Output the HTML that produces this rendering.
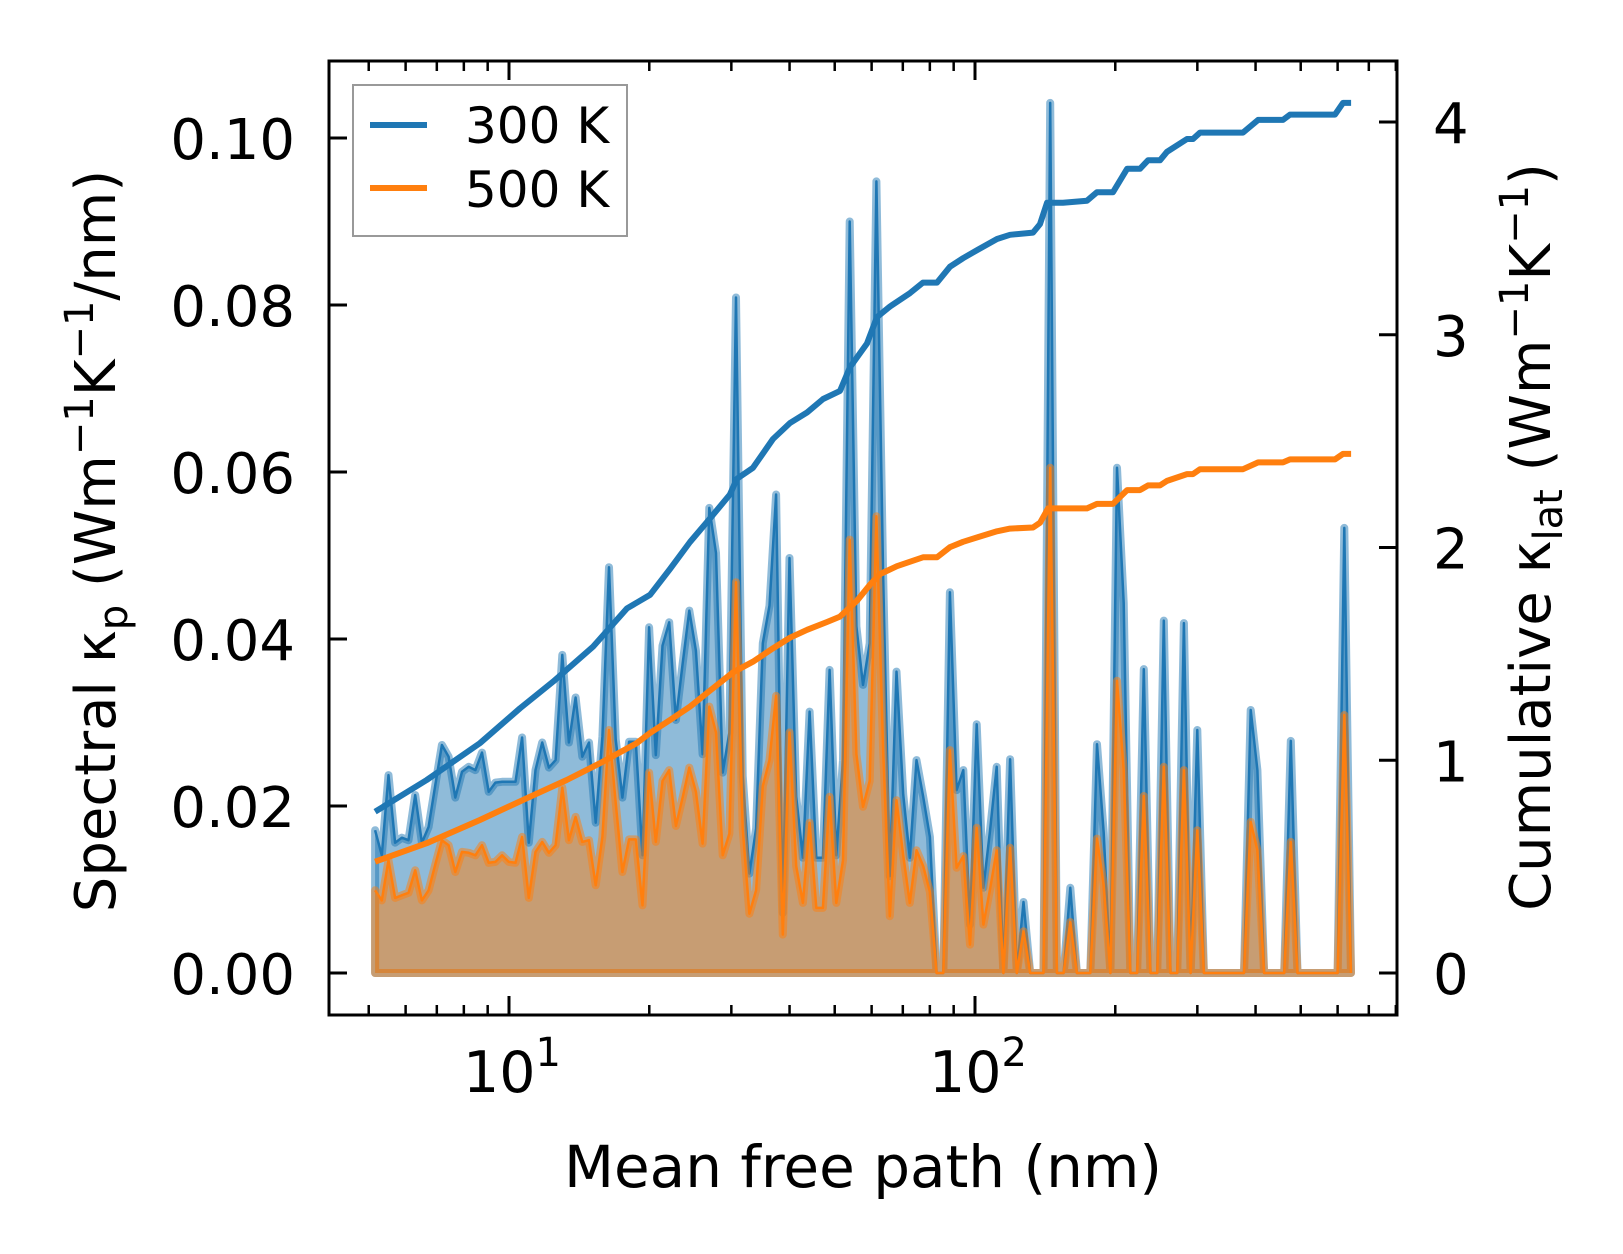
<!DOCTYPE html>
<html><head><meta charset="utf-8">
<style>
html,body{margin:0;padding:0;background:#fff;}
svg{display:block;font-family:"DejaVu Sans","Liberation Sans",sans-serif;}
</style></head>
<body>
<svg id="chart" width="1623" height="1254" viewBox="0 0 1623 1254" xmlns="http://www.w3.org/2000/svg">
<defs><clipPath id="plotclip"><rect x="329" y="61" width="1068" height="954"/></clipPath></defs>
<rect x="0" y="0" width="1623" height="1254" fill="#fff"/>
<g id="marks" clip-path="url(#plotclip)"></g>
<rect x="329" y="61" width="1068" height="954" fill="none" stroke="#000" stroke-width="3"/>
<g id="ticks"></g>
<text x="863" y="1187" font-size="58" text-anchor="middle">Mean free path (nm)</text>
<text transform="translate(115,541) rotate(-90)" font-size="56" text-anchor="middle">Spectral κ<tspan font-size="40" dy="12">p</tspan><tspan dy="-12"> (Wm</tspan><tspan font-size="40" dy="-22">−1</tspan><tspan dy="22">K</tspan><tspan font-size="40" dy="-22">−1</tspan><tspan dy="22">/nm)</tspan></text>
<text transform="translate(1550,537) rotate(-90)" font-size="56" text-anchor="middle">Cumulative κ<tspan font-size="40" dy="12">lat</tspan><tspan dy="-12"> (Wm</tspan><tspan font-size="40" dy="-22">−1</tspan><tspan dy="22">K</tspan><tspan font-size="40" dy="-22">−1</tspan><tspan dy="22">)</tspan></text>
<g>
<rect x="353" y="85" width="274" height="151" fill="#fff" fill-opacity="0.8" stroke="#999" stroke-width="2"/>
<line x1="370" y1="125" x2="427" y2="125" stroke="#1f77b4" stroke-width="6"/>
<text x="465" y="143" font-size="50">300 K</text>
<line x1="370" y1="188" x2="427" y2="188" stroke="#ff7f0e" stroke-width="6"/>
<text x="465" y="207" font-size="50">500 K</text>
</g>
<script>
// spectral kappa_p, units of 1e-3 W m^-1 K^-1 nm^-1, on log-spaced MFP grid
const mfpMin = 5.16;
const mfpMax = 641;
const spec300 = [17.1,14.1,23.7,15.6,16.2,15.9,21.3,15.6,17.5,22.5,27.3,25.9,21,24.1,24.7,24.3,26.4,21.7,22.8,22.9,22.9,22.9,28.2,15.6,24.3,27.6,24.6,25.5,38.1,27.6,33,25.9,27.6,18,28.3,48.6,28,21,27.7,27.7,14.1,41.4,26.1,
39.2,42,30.3,37,43.4,38.6,26.2,55.7,50.3,24,28.8,80.9,23.6,11.9,17.3,39.5,44,57.3,7.2,49.7,21.1,13.8,31.3,13.8,13.8,36.3,14.1,25.5,90,41.5,34.5,39.5,94.8,47.8,11.6,36.1,21.4,13.8,25.5,21.1,16.3,0,0,
45.6,21.9,24.3,5.8,29.8,10.2,17,24.7,0,25.6,0,8.5,0,0,0,104.2,0,0,10.2,0,0,0,27.4,16.8,0,60.5,44.3,0,0,36.4,0,0,42.2,0,0,41.9,0,29.1,0,0,0,0,0,0,0,31.5,24.3,0,0,0,0,27.8,0,0,0,0,0,0,0,53.3,0];
const spec500 = [9.9,8.7,13.5,9,9.3,9.6,12.3,8.7,9.9,13,15.9,15.3,12.1,14.5,14.4,14.1,15.3,13.2,13.3,14.1,13.3,13.2,16.3,9,14.5,15.7,14.4,15.3,22.2,15.9,18.7,15.7,15.9,10.5,16.3,29.1,20.4,12.1,16,16,8.1,24,15.7,
23,24.3,17.6,21,24.6,21.7,15.5,31.9,28.8,14.1,16.7,46.8,17.3,7.1,9.9,22.4,25.5,33.2,4.6,28.8,12.8,8.4,18,7.8,7.8,21.1,8.4,13.5,51.9,26.2,19.9,23,54.7,26.8,6.8,20.7,14.1,8.4,14.7,12.8,9.7,0,0,
26.7,12.6,14,3.4,17.4,5.8,10,14.7,0,15,0,5,0,0,0,60.5,0,0,6.1,0,0,0,16.1,10.5,0,35,24.3,0,0,21.2,0,0,24.7,0,0,24.3,0,17.1,0,0,0,0,0,0,0,18.1,14.7,0,0,0,0,15.7,0,0,0,0,0,0,0,30.9,0];
// cumulative kappa_lat (W m^-1 K^-1)
const cum300x = [5.16,6.66,8.66,10.56,12.43,15.15,17.92,20.07,22.16,24.46,26.99,29.79,30.84,33.38,36.86,40.09,43.62,47.2,51.33,53.93,58.65,61.62,65.72,72.53,77.33,82.89,88.4,94.3,101.5,111.5,118.9,133.2,137.9,142.7,154.5,173.9,182.7,197.8,212,226,235.1,249.5,258.2,285,293.6,303.9,376,405,458.1,474.3,592.2,616.2,641.2];
const cum300y = [0.758,0.907,1.08,1.244,1.369,1.534,1.714,1.777,1.899,2.026,2.136,2.249,2.323,2.374,2.51,2.585,2.635,2.698,2.736,2.848,2.959,3.083,3.133,3.196,3.245,3.245,3.32,3.36,3.4,3.45,3.47,3.48,3.52,3.62,3.62,3.63,3.67,3.67,3.78,3.78,3.82,3.82,3.86,3.92,3.92,3.95,3.95,4.01,4.01,4.035,4.035,4.09,4.09];
const cum500x = [5.16,6.66,8.66,10.91,13.3,15.68,18.79,20.07,22.16,24.46,26.99,30.25,33.38,36.86,40.09,43.62,48.14,51.33,55.81,59.52,62.54,68,77.33,82.89,88.4,94.3,101.5,111.5,118.9,133.2,137.9,143.5,173.9,182.7,197.8,212,226,235.1,249.5,258.2,285,293.6,303.9,376,405,458.1,474.3,592.2,616.2,641.2];
const cum500y = [0.523,0.61,0.719,0.821,0.907,0.986,1.08,1.128,1.189,1.252,1.327,1.413,1.463,1.526,1.576,1.613,1.65,1.675,1.75,1.825,1.875,1.912,1.954,1.954,2.002,2.027,2.049,2.076,2.089,2.094,2.116,2.184,2.184,2.205,2.205,2.27,2.27,2.292,2.292,2.313,2.345,2.345,2.368,2.368,2.4,2.4,2.414,2.414,2.44,2.44];
const yLeftTicks = ["0.00","0.02","0.04","0.06","0.08","0.10"];
const yRightTicks = ["0","1","2","3","4"];
const xMajorTicks = [10,100];
const xMajorExp = ["1","2"];
const xMinorTicks = [5,6,7,8,9,20,30,40,50,60,70,80,90,200,300,400,500,600,700,800];

const NS = "http://www.w3.org/2000/svg";
const X0 = 509, DEC = 466, YB = 973;
function xs(nm){ return X0 + (Math.log10(nm) - 1) * DEC; }
function yl(v){ return YB - v / 0.02 * 167; }
function yr(v){ return YB - v * 212.75; }
function mk(tag, attrs, parent){ const e = document.createElementNS(NS, tag); for (const k in attrs) e.setAttribute(k, attrs[k]); parent.appendChild(e); return e; }

const marks = document.getElementById('marks');
const N = spec300.length;
function gridX(i){ return Math.exp(Math.log(mfpMin) + (Math.log(mfpMax) - Math.log(mfpMin)) * i / (N - 1)); }

function drawSpectral(vals, color, key){
  let pts = [];
  for (let i = 0; i < vals.length; i++) pts.push([xs(gridX(i)), yl(vals[i] * 0.001)]);
  let area = 'M' + pts[0][0].toFixed(1) + ',' + yl(0).toFixed(1);
  pts.forEach(p => area += 'L' + p[0].toFixed(1) + ',' + p[1].toFixed(1));
  area += 'L' + pts[pts.length-1][0].toFixed(1) + ',' + yl(0).toFixed(1) + 'Z';
  const a = mk('path', {d: area, fill: color, 'fill-opacity': 0.5, stroke: color, 'stroke-opacity': 0.5, 'stroke-width': 8, 'stroke-linejoin': 'round'}, marks);
  
  
  let line = 'M' + pts.map(p => p[0].toFixed(1) + ',' + p[1].toFixed(1)).join('L');
  const l = mk('path', {d: line, fill: 'none', stroke: color, 'stroke-width': 2.5, 'stroke-linejoin': 'round'}, marks);
  
  
}
function drawCum(xa, ya, color, key){
  let d = 'M' + xa.map((x, i) => xs(x).toFixed(1) + ',' + yr(ya[i]).toFixed(1)).join('L');
  const l = mk('path', {d: d, fill: 'none', stroke: color, 'stroke-width': 6, 'stroke-linejoin': 'round'}, marks);
  
  
}
drawSpectral(spec300, '#1f77b4', '300k');
drawSpectral(spec500, '#ff7f0e', '500k');
drawCum(cum300x, cum300y, '#1f77b4', '300k');
drawCum(cum500x, cum500y, '#ff7f0e', '500k');

const tk = document.getElementById('ticks');
const L = 329, R = 1397, T = 61, B = 1015;
yLeftTicks.forEach(s => {
  const y = yl(parseFloat(s));
  const t = mk('line', {x1: L, y1: y, x2: L + 18, y2: y, stroke: '#000', 'stroke-width': 3}, tk);
  
  
  const lb = mk('text', {x: 295, y: y + 21, 'font-size': 56, 'text-anchor': 'end'}, tk);
  lb.textContent = s;
  
  
});
yRightTicks.forEach(s => {
  const y = yr(parseFloat(s));
  const t = mk('line', {x1: R, y1: y, x2: R - 18, y2: y, stroke: '#000', 'stroke-width': 3}, tk);
  
  
  const lb = mk('text', {x: 1433, y: y + 21, 'font-size': 56}, tk);
  lb.textContent = s;
  
  
});
xMajorTicks.forEach((v, i) => {
  const x = xs(v);
  const t1 = mk('line', {x1: x, y1: B, x2: x, y2: B - 19, stroke: '#000', 'stroke-width': 3}, tk);
  
  
  const t2 = mk('line', {x1: x, y1: T, x2: x, y2: T + 19, stroke: '#000', 'stroke-width': 3}, tk);
  
  
  const lb = mk('text', {x: x - 46, y: 1092, 'font-size': 57}, tk);
  
  
  lb.appendChild(document.createTextNode('10'));
  const sp = mk('tspan', {dy: -26, 'font-size': 40}, lb);
  sp.textContent = xMajorExp[i];
});
xMinorTicks.forEach(v => {
  const x = xs(v);
  const t1 = mk('line', {x1: x, y1: B, x2: x, y2: B - 10, stroke: '#000', 'stroke-width': 2.5}, tk);
  
  
  const t2 = mk('line', {x1: x, y1: T, x2: x, y2: T + 10, stroke: '#000', 'stroke-width': 2.5}, tk);
  
  
});
</script>
</svg>
</body></html>
